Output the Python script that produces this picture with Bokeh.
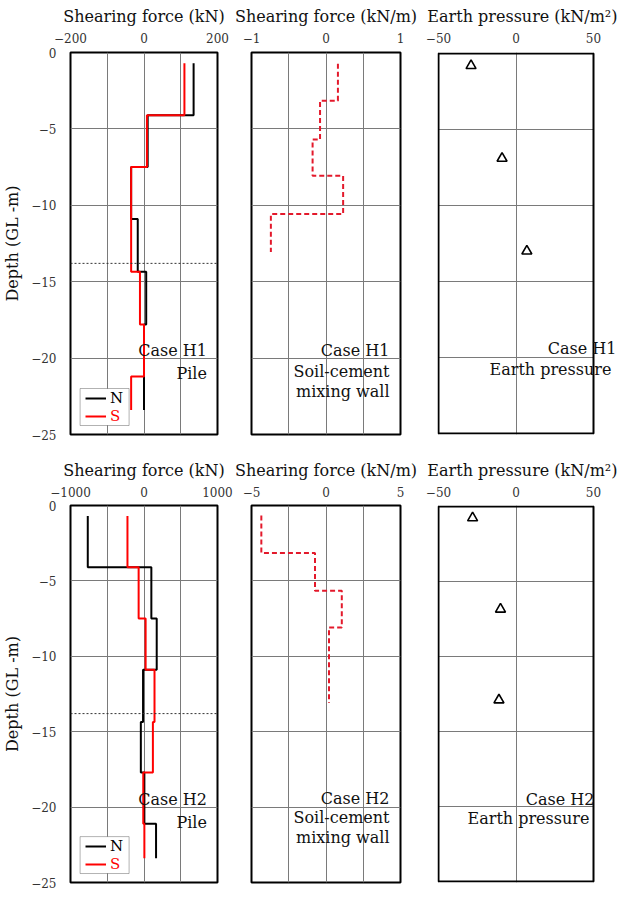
from bokeh.plotting import figure
from bokeh.models import Range1d, FixedTicker, Span, Label, Legend, LegendItem, BoxAnnotation
from bokeh.layouts import column, row
from bokeh.embed import file_html
from bokeh.resources import INLINE

FONT = "DejaVu Serif"

# ---------------- data ----------------
depth_ticks = [0, -5, -10, -15, -20, -25]
depth_grid = [-5, -10, -15, -20]
reference_level = -13.8

# Case H1 – pile shearing force (kN): segment boundaries (depth) and values
h1_pile_n_depth = [-0.7, -4.1, -7.5, -10.9, -14.35, -17.8, -23.4]
h1_pile_n_force = [135, 10, -35, -17, 6, 0]
h1_pile_s_depth = [-0.7, -4.1, -7.5, -14.35, -17.8, -21.2, -23.4]
h1_pile_s_force = [110, 8, -35, -11, 0, -35]
# Case H1 – soil-cement mixing wall shearing force (kN/m)
h1_wall_depth = [-0.74, -3.15, -5.7, -8.07, -10.57, -13.06]
h1_wall_force = [0.16, -0.08, -0.18, 0.23, -0.74]
# Case H1 – earth pressure (kN/m2)
h1_ep_depth = [-0.8, -6.9, -13.0]
h1_ep_value = [-29, -9, 7]

# Case H2 – pile shearing force (kN)
h2_pile_n_depth = [-0.7, -4.1, -7.5, -10.9, -14.35, -17.7, -21.1, -23.4]
h2_pile_n_force = [-765, 100, 173, -13, -43, 5, 164]
h2_pile_s_depth = [-0.7, -4.1, -7.5, -10.9, -14.35, -17.7, -21.1, -23.4]
h2_pile_s_force = [-225, -73, 22, 143, 121, -10, 5]
# Case H2 – soil-cement mixing wall (kN/m)
h2_wall_depth = [-0.67, -3.15, -5.66, -8.09, -13.1]
h2_wall_force = [-4.34, -0.74, 1.06, 0.2]
# Case H2 – earth pressure (kN/m2)
h2_ep_depth = [-0.76, -6.85, -12.9]
h2_ep_value = [-28, -10, -11]

pile_ticks_h1 = [-200, 0, 200]
pile_ticks_h2 = [-1000, 0, 1000]
wall_ticks_h1 = [-1, 0, 1]
wall_ticks_h2 = [-5, 0, 5]
ep_ticks = [-50, 0, 50]

# ---------------- layout constants ----------------
FRAME_W = [153, 149, 155]
BORDER_L = [64, 17, 17]
BORDER_R = [17, 21, 30]
EP_EXTRA_R = 24          # room inside the 3rd panel for text that passes its box
ROW_FRAME_H = [382, 378]
ROW_TOP_B = [52, 50]
ROW_BOT_B = [20, 9]
GRID_COLOR = "#7a7a7a"


def steps(bounds, vals):
    xs, ys = [], []
    for i, v in enumerate(vals):
        xs += [v, v]
        ys += [bounds[i], bounds[i + 1]]
    return xs, ys


def panel(col, rowi, ticks, title):
    lo, hi = ticks[0], ticks[-1]
    fh = ROW_FRAME_H[rowi]
    fw = FRAME_W[col]
    bl, br = BORDER_L[col], BORDER_R[col]
    bt, bb = ROW_TOP_B[rowi], ROW_BOT_B[rowi]
    xr = Range1d(lo, hi)
    yr = Range1d(-25, 0)
    if col == 2:
        upx = (hi - lo) / fw
        upy = 25 / fh
        xr = Range1d(lo - 1 * upx, hi + EP_EXTRA_R * upx)
        yr = Range1d(-25 - upy, upy)
        fw2 = fw + 1 + EP_EXTRA_R
        bl2, br2 = bl - 1, br - EP_EXTRA_R
        fh, bt, bb = fh + 2, bt - 1, bb - 1
        fw, bl, br = fw2, bl2, br2
    p = figure(width=bl + fw + br, height=bt + fh + bb,
               x_range=xr, y_range=yr,
               x_axis_location="above", toolbar_location=None,
               output_backend="svg", title=title,
               min_border_left=bl, min_border_right=br,
               min_border_top=bt, min_border_bottom=bb)
    p.title.text_font = FONT
    p.title.text_font_size = "16px"
    p.title.text_font_style = "normal"
    p.title.text_color = "#111111"
    p.title.standoff = 8
    if col == 2:
        p.title.align = "right"
        p.title.offset = 0
    else:
        p.title.align = "center"
    minor = []
    if col != 2:
        minor = [(ticks[0] + ticks[1]) / 2, (ticks[1] + ticks[2]) / 2]
    xt = FixedTicker(ticks=ticks, minor_ticks=minor)
    p.xaxis.ticker = xt
    p.xgrid.ticker = xt
    p.xaxis.axis_line_color = None
    p.xaxis.major_tick_out = 0
    p.xaxis.major_tick_in = 0
    p.xaxis.minor_tick_out = 0
    p.xaxis.minor_tick_in = 0
    p.xaxis.major_label_standoff = 10 if rowi == 0 else 9
    p.xaxis.major_label_text_font = FONT
    p.xaxis.major_label_text_font_size = "12px"
    p.xaxis.major_label_text_color = "#333333"
    p.xgrid.grid_line_color = GRID_COLOR
    p.xgrid.minor_grid_line_color = GRID_COLOR
    yt = FixedTicker(ticks=depth_ticks)
    p.yaxis.ticker = yt
    p.ygrid.ticker = FixedTicker(ticks=depth_grid)
    p.ygrid.grid_line_color = GRID_COLOR
    if col == 0:
        p.yaxis.axis_label = "Depth (GL -m)"
        p.yaxis.axis_label_text_font = FONT
        p.yaxis.axis_label_text_font_size = "16px"
        p.yaxis.axis_label_text_font_style = "normal"
        p.yaxis.axis_label_text_color = "#111111"
        p.yaxis.axis_label_standoff = 6
        p.yaxis.axis_line_color = None
        p.yaxis.major_tick_out = 0
        p.yaxis.major_tick_in = 0
        p.yaxis.minor_tick_out = 0
        p.yaxis.minor_tick_in = 0
        p.yaxis.major_label_standoff = 14
        p.yaxis.major_label_text_font = FONT
        p.yaxis.major_label_text_font_size = "12px"
        p.yaxis.major_label_text_color = "#333333"
    else:
        p.yaxis.visible = False
    if col == 2:
        p.outline_line_color = None
        p.ygrid.cross_bounds = (lo, hi)
        p.xgrid.bounds = (-25, 0)
        p.quad(left=[lo], right=[hi], bottom=[-25], top=[0], fill_color=None,
               line_color="black", line_width=2)
    else:
        p.outline_line_color = "black"
        p.outline_line_width = 2
        p.outline_line_alpha = 1
    p.background_fill_color = "white"
    p.border_fill_color = "white"
    return p


def add_labels(p, x, ys, texts):
    for y, t in zip(ys, texts):
        p.add_layout(Label(x=x, y=y, text=t, text_align="right", text_baseline="middle",
                           text_font=FONT, text_font_size="16px", text_color="#111111"))


def pile_panel(rowi, ticks, nd, nf, sd, sf, case):
    p = panel(0, rowi, ticks, "Shearing force (kN)")
    p.add_layout(Span(location=reference_level, dimension="width", line_color="#333333",
                      line_width=1, line_dash="2 2"))
    xn, yn = steps(nd, nf)
    xs, ys = steps(sd, sf)
    rn = p.line(xn, yn, line_color="black", line_width=2)
    rs = p.line(xs, ys, line_color="red", line_width=2)
    fh = ROW_FRAME_H[rowi]
    lo, hi = ticks[0], ticks[-1]
    upx = (hi - lo) / FRAME_W[0]
    upy = 25 / fh
    p.add_layout(BoxAnnotation(left=lo + 10 * upx, right=lo + 61 * upx,
                               bottom=-25 + 9 * upy, top=-25 + 46 * upy,
                               fill_color="white", fill_alpha=1, line_color="black",
                               line_width=1, level="annotation"))
    common = dict(label_text_font=FONT, label_text_font_size="15px", glyph_width=21,
                  glyph_height=12, label_height=12, label_standoff=4, padding=2, margin=0,
                  border_line_alpha=0, background_fill_alpha=0)
    leg_n = Legend(items=[LegendItem(label="N", renderers=[rn])], location=(13, 25),
                   label_text_color="black", **common)
    leg_s = Legend(items=[LegendItem(label="S", renderers=[rs])], location=(13, 7),
                   label_text_color="red", **common)
    p.add_layout(leg_n)
    p.add_layout(leg_s)
    add_labels(p, lo + 142 * upx, [-19.5, -21.0], [case, "Pile"])
    return p


def wall_panel(rowi, ticks, d, f, case, ys):
    p = panel(1, rowi, ticks, "Shearing force (kN/m)")
    x, y = steps(d, f)
    p.line(x, y, line_color="#e3192b", line_width=2, line_dash="5 3")
    lo, hi = ticks[0], ticks[-1]
    upx = (hi - lo) / FRAME_W[1]
    add_labels(p, lo + 138 * upx, ys, [case, "Soil-cement", "mixing wall"])
    return p


def ep_panel(rowi, d, v, case, xr, ys, txt):
    p = panel(2, rowi, ep_ticks, "Earth pressure (kN/m\u00b2)")
    p.scatter(v, d, marker="triangle", size=10, fill_color=None, line_color="black",
              line_width=1.6)
    upx = 100 / FRAME_W[2]
    add_labels(p, -50 + xr * upx, ys, [case, txt])
    return p


p1 = pile_panel(0, pile_ticks_h1, h1_pile_n_depth, h1_pile_n_force,
                h1_pile_s_depth, h1_pile_s_force, "Case H1")
p2 = wall_panel(0, wall_ticks_h1, h1_wall_depth, h1_wall_force, "Case H1",
                [-19.5, -20.9, -22.2])
p3 = ep_panel(0, h1_ep_depth, h1_ep_value, "Case H1", 178, [-19.4, -20.8], "Earth  pressure")

p4 = pile_panel(1, pile_ticks_h2, h2_pile_n_depth, h2_pile_n_force,
                h2_pile_s_depth, h2_pile_s_force, "Case H2")
p5 = wall_panel(1, wall_ticks_h2, h2_wall_depth, h2_wall_force, "Case H2",
                [-19.4, -20.7, -22.0])
p6 = ep_panel(1, h2_ep_depth, h2_ep_value, "Case H2", 156, [-19.5, -20.8], "Earth  pressure")

layout = column(row(p1, p2, p3), row(p4, p5, p6))

open("out.html", "w").write(file_html(layout, INLINE))
